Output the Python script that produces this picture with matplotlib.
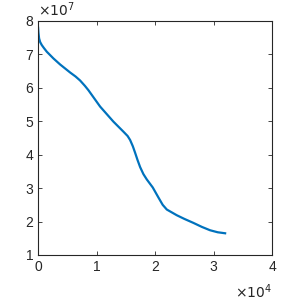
import matplotlib.pyplot as plt
from matplotlib.ticker import FuncFormatter

plt.rcParams['font.family'] = ['Liberation Sans', 'DejaVu Sans']

# curve samples
x = [0, 60, 170, 350, 630, 1000, 1490, 2000, 2620, 3760, 5470, 6400, 7180,
     8000, 8600, 10600, 12870, 14580, 15300, 15730, 16200, 16580, 17000,
     17440, 18000, 18580, 19600, 20570, 21300, 22000, 23700, 25000, 26550,
     28000, 29400, 30700, 31970]
y = [7.8e7, 7.65e7, 7.48e7, 7.37e7, 7.28e7, 7.19e7, 7.08e7, 6.99e7, 6.88e7,
     6.70e7, 6.46e7, 6.34e7, 6.22e7, 6.06e7, 5.93e7, 5.44e7, 4.99e7,
     4.69e7, 4.56e7, 4.44e7, 4.25e7, 4.06e7, 3.84e7, 3.63e7, 3.42e7,
     3.26e7, 3.02e7, 2.72e7, 2.50e7, 2.36e7, 2.19e7, 2.08e7, 1.96e7,
     1.84e7, 1.74e7, 1.68e7, 1.65e7]

xticks = [0, 1e4, 2e4, 3e4, 4e4]
yticks = [1e7, 2e7, 3e7, 4e7, 5e7, 6e7, 7e7, 8e7]

axcol = '#262626'

fig = plt.figure(figsize=(3, 3), dpi=100)
ax = fig.add_axes([0.127, 0.15, 0.78, 0.78])
ax.plot(x, y, color='#0072BD', lw=1.6)

ax.set_xlim(0, 4e4)
ax.set_ylim(1e7, 8e7)
ax.set_xticks(xticks)
ax.set_yticks(yticks)
ax.xaxis.set_major_formatter(FuncFormatter(lambda v, p: f'{v/1e4:g}'))
ax.yaxis.set_major_formatter(FuncFormatter(lambda v, p: f'{v/1e7:g}'))
ax.tick_params(direction='in', length=3, width=0.6, colors=axcol,
               labelsize=10, top=True, right=True)
for s in ax.spines.values():
    s.set_color(axcol)
    s.set_linewidth(0.8)

ax.text(0.0, 1.01, r'$\times10^{7}$', transform=ax.transAxes, ha='left',
        va='bottom', fontsize=10, color=axcol, math_fontfamily='dejavusans')
ax.text(1.0, -0.115, r'$\times10^{4}$', transform=ax.transAxes, ha='right',
        va='top', fontsize=10, color=axcol, math_fontfamily='dejavusans')

fig.savefig('out.png', dpi=100, facecolor='white')
